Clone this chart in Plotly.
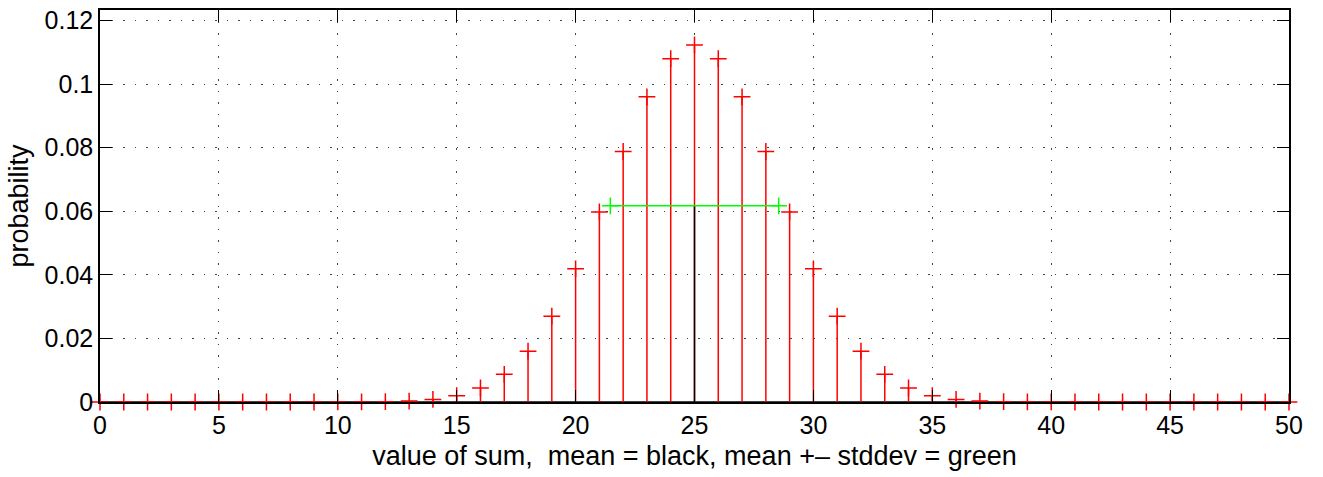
import plotly.graph_objects as go

# values of the sum and their probabilities
sums = list(range(0, 51))
prob = [0.0, 0.0, 0.0, 0.0, 0.0, 0.0, 0.0, 0.0, 0.0, 0.0,
        0.00001, 0.00003, 0.0001, 0.0003, 0.0008, 0.0020, 0.0044, 0.0087, 0.0160, 0.0270,
        0.0419, 0.0598, 0.0788, 0.0960, 0.1080, 0.1123, 0.1080, 0.0960, 0.0788, 0.0598,
        0.0419, 0.0270, 0.0160, 0.0087, 0.0044, 0.0020, 0.0008, 0.0003, 0.0001, 0.00003,
        0.00001, 0.0, 0.0, 0.0, 0.0, 0.0, 0.0, 0.0, 0.0, 0.0, 0.0]

mean_val = 25.0
std_val = 3.54
marker_level = 0.0617

x_ticks = [0, 5, 10, 15, 20, 25, 30, 35, 40, 45, 50]
y_ticks = [0, 0.02, 0.04, 0.06, 0.08, 0.1, 0.12]
y_tick_text = ["0", "0.02", "0.04", "0.06", "0.08", "0.1", "0.12"]

stem_x, stem_y = [], []
for xv, pv in zip(sums, prob):
    stem_x += [xv, xv, None]
    stem_y += [0, pv, None]

fig = go.Figure()
# baseline
fig.add_trace(go.Scatter(x=[sums[0], sums[-1]], y=[0, 0], mode="lines",
                         line=dict(color="black", width=1.5), hoverinfo="skip", showlegend=False))
# stems
fig.add_trace(go.Scatter(x=stem_x, y=stem_y, mode="lines", cliponaxis=False,
                         line=dict(color="red", width=1.5), hoverinfo="skip", showlegend=False))
# stem markers
fig.add_trace(go.Scatter(x=sums, y=prob, mode="markers", cliponaxis=False,
                         marker=dict(symbol="cross-thin", size=12, line=dict(color="red", width=1.5)),
                         showlegend=False))
# mean line
fig.add_trace(go.Scatter(x=[mean_val, mean_val], y=[0, marker_level], mode="lines",
                         line=dict(color="black", width=1.5), showlegend=False))
# mean +- std
fig.add_trace(go.Scatter(x=[mean_val - std_val, mean_val + std_val], y=[marker_level, marker_level],
                         mode="lines+markers",
                         line=dict(color="#00ff00", width=1.5),
                         marker=dict(symbol="cross-thin", size=12, line=dict(color="#00ff00", width=1.5)),
                         showlegend=False))

axis_common = dict(
    showline=True, linecolor="black", linewidth=1.5, mirror="allticks",
    ticks="inside", ticklen=12, tickwidth=1.2, tickcolor="black",
    showgrid=True, gridcolor="#444", gridwidth=1, griddash="1.5px,10px",
    zeroline=False, tickfont=dict(family="Liberation Sans, Arial", size=25, color="black"),
)

fig.update_xaxes(range=[0, 50], tickvals=x_ticks, ticktext=[str(t) for t in x_ticks],
                 title=dict(text="value of sum,  mean = black, mean +\u2013 stddev = green",
                            font=dict(family="Liberation Sans, Arial", size=27, color="black"),
                            standoff=8),
                 **axis_common)
fig.update_yaxes(range=[0, 0.1233], tickvals=y_ticks, ticktext=y_tick_text,
                 title=dict(text="probability",
                            font=dict(family="Liberation Sans, Arial", size=27, color="black"),
                            standoff=8),
                 **axis_common)

fig.update_layout(width=1323, height=477, margin=dict(l=100, r=34, t=6, b=75),
                  paper_bgcolor="white", plot_bgcolor="white", showlegend=False)

fig.write_html("out.html")
